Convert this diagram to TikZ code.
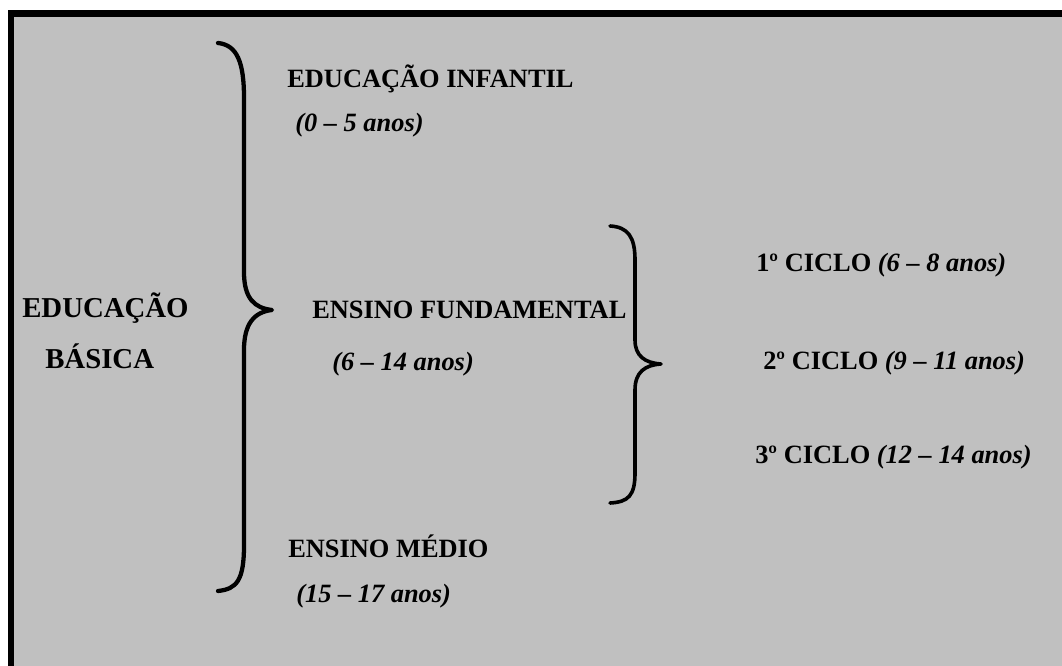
\documentclass[tikz,border=0pt]{standalone}
\usepackage{fontspec}
\setmainfont{Liberation Serif}
\definecolor{panelgray}{RGB}{192,192,192}
\begin{document}
\begin{tikzpicture}[x=0.75pt,y=-0.75pt,
  lbl/.style={anchor=base west,inner sep=0pt,font=\bfseries\fontsize{19.8}{24}\selectfont},
  biglbl/.style={anchor=base west,inner sep=0pt,font=\bfseries\fontsize{21.6}{26}\selectfont},
  bracebig/.style={line width=3.2pt,line cap=round,line join=round},
  bracesmall/.style={line width=2.7pt,line cap=round,line join=round}]
\useasboundingbox (0,0) rectangle (1062,666);
\fill[white] (0,0) rectangle (1062,666);
\fill[panelgray] (14,17) rectangle (1062,666);
\fill[black] (8,10) rectangle (1062,17);
\fill[black] (8,10) rectangle (14,666);
% big brace
\draw[bracebig] (218,43) .. controls (237,45) and (244,62) .. (244,98) -- (244,272)
  .. controls (244,298) and (254,308) .. (272,310)
  .. controls (254,312) and (244,324) .. (244,350) -- (244,545)
  .. controls (244,580) and (237,589) .. (218,591);
% small brace
\draw[bracesmall] (610,226) .. controls (628,227) and (635,237) .. (635,260) -- (635,340)
  .. controls (635,356) and (645,363) .. (661,364)
  .. controls (645,365) and (635,372) .. (635,390) -- (635,473)
  .. controls (635,496) and (628,502) .. (610,503);
% labels
\node[biglbl] (eb1) at (22,317) {EDUCAÇÃO};
\node[biglbl] (eb2) at (45,368) {BÁSICA};
\node[lbl] (ei) at (287,88) {EDUCAÇÃO INFANTIL};
\node[lbl] (eia) at (295,132) {\itshape (0 – 5 anos)};
\node[lbl] (ef) at (312,318) {ENSINO FUNDAMENTAL};
\node[lbl] (efa) at (332,370) {\itshape (6 – 14 anos)};
\node[lbl] (em) at (288,557) {ENSINO MÉDIO};
\node[lbl] (ema) at (296,602) {\itshape (15 – 17 anos)};
\node[lbl] (c1) at (756,272) {1º CICLO \textit{(6 – 8 anos)}};
\node[lbl] (c2) at (763,369) {2º CICLO \textit{(9 – 11 anos)}};
\node[lbl] (c3) at (755,463) {3º CICLO \textit{(12 – 14 anos)}};
\end{tikzpicture}
\end{document}
